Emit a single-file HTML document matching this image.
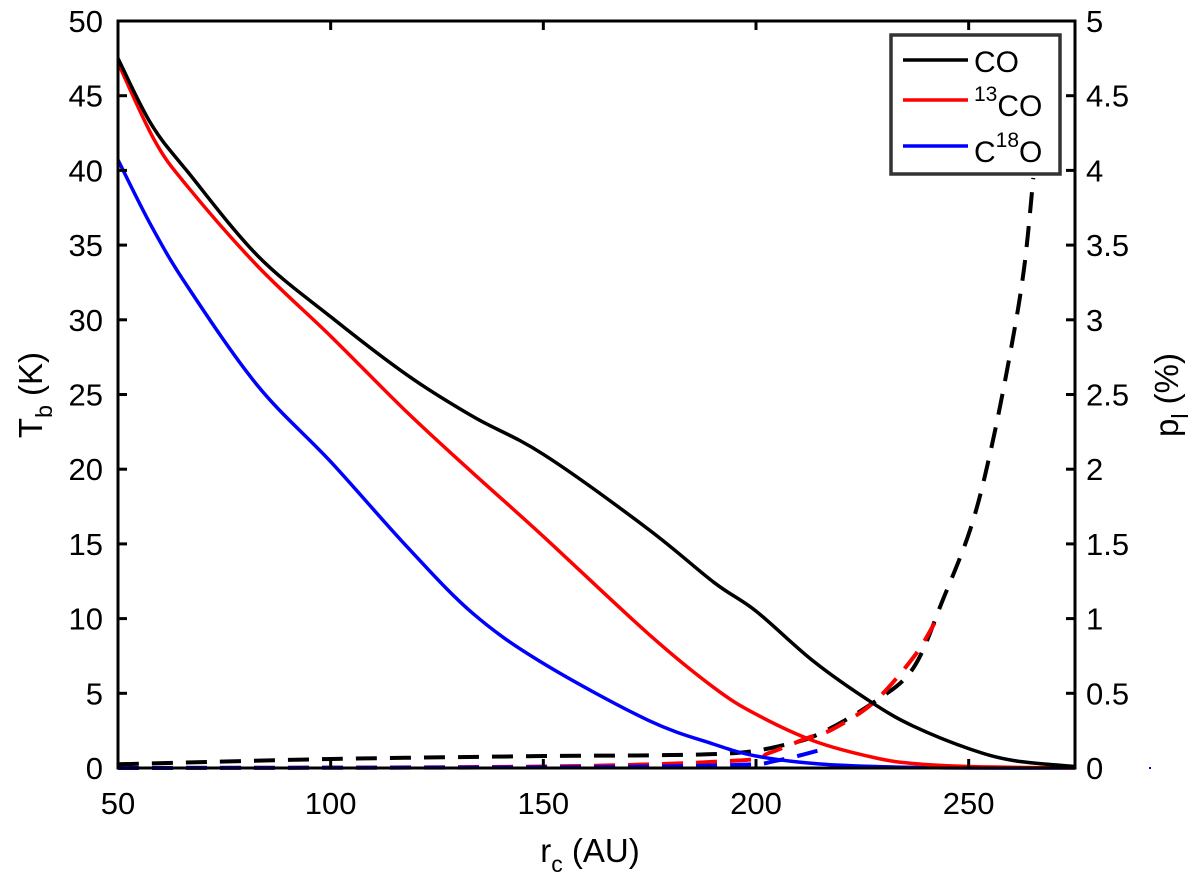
<!DOCTYPE html>
<html><head><meta charset="utf-8"><style>
html,body{margin:0;padding:0;background:#fff;}
svg{display:block;font-family:"Liberation Sans",Arial,sans-serif;}
</style></head><body>
<svg id="chart" width="1200" height="888" viewBox="0 0 1200 888">
<rect x="0" y="0" width="1200" height="888" fill="#fff"/>
<g id="marks"></g>
<rect x="118" y="21" width="957" height="747" fill="none" stroke="#000" stroke-width="3"/>
<g id="ticks"></g>
<text x="42" y="395" font-size="33" text-anchor="middle" transform="rotate(-90 42 395)">T<tspan font-size="23" dy="10">b</tspan><tspan dy="-10"> (K)</tspan></text>
<text x="1178" y="395" font-size="33" text-anchor="middle" transform="rotate(-90 1178 395)">p<tspan font-size="23" dy="10">l</tspan><tspan dy="-10"> (%)</tspan></text>
<text x="590" y="862" font-size="33" text-anchor="middle">r<tspan font-size="23" dy="10">c</tspan><tspan dy="-10"> (AU)</tspan></text>
<rect x="1149" y="767" width="2" height="2" fill="#00f"/>
<g>
<rect x="891" y="35" width="169" height="139" fill="#fff" stroke="#333" stroke-width="3.5"/>
<line x1="903" y1="60" x2="968" y2="60" stroke="#000" stroke-width="3.5"/>
<text x="974" y="72" font-size="30">CO</text>
<line x1="903" y1="100" x2="968" y2="100" stroke="#f00" stroke-width="3.5"/>
<text x="974" y="116" font-size="30"><tspan font-size="21" dy="-15">13</tspan><tspan dy="15">CO</tspan></text>
<line x1="903" y1="146" x2="968" y2="146" stroke="#00f" stroke-width="3.5"/>
<text x="974" y="162" font-size="30">C<tspan font-size="21" dy="-15">18</tspan><tspan dy="15">O</tspan></text>
</g>
</svg>
<script>
const xTicks=[50,100,150,200,250];
const yTicks=[0,5,10,15,20,25,30,35,40,45,50];
const y2Ticks=[0,0.5,1,1.5,2,2.5,3,3.5,4,4.5,5];
const y2Labels=["0","0.5","1","1.5","2","2.5","3","3.5","4","4.5","5"];
const coR=[50,57.8,66.4,82.8,100,118,133.6,150,174.6,190.2,200,213.7,227.7,237,250,260.5,275];
const coT=[47.5,43.1,39.9,34.3,30.2,26.3,23.5,21.0,16.0,12.4,10.5,7.1,4.3,2.8,1.3,0.5,0.1];
const c13R=[50,58.6,66.4,82.8,100,118,133.6,150,174.6,190,200,213.7,227.7,237,250,275];
const c13T=[47.2,42.0,38.9,33.6,28.9,23.8,19.7,15.5,9.0,5.4,3.6,1.8,0.7,0.3,0.1,0];
const c18R=[50,57.8,66.4,82.8,100,118,133.6,150,174.6,190,200,213.7,228,250,275];
const c18T=[40.7,36.3,32.2,25.6,20.5,14.8,10.3,7.0,3.2,1.6,0.8,0.3,0.1,0,0];
const coPR=[50,100,150,175,195,206,215,227.7,237,244,250.4,255,259.8,263,265.2];
const coP=[0.025,0.06,0.08,0.085,0.1,0.15,0.23,0.44,0.67,1.13,1.6,2.1,2.78,3.34,3.95];
const c13PR=[50,150,195.7,203,212,218,227.7,237,242];
const c13P=[0.0,0.01,0.05,0.1,0.2,0.26,0.44,0.74,0.97];
const c18PR=[50,150,195,205,214.5];
const c18P=[0.0,0.005,0.02,0.05,0.115];

const X0=118,X1=1075,Y0=768,Y1=21;
function xs(v){return X0+(v-50)/(275-50)*(X1-X0);}
function ys(v){return Y0-v/50*(Y0-Y1);}
function y2s(v){return Y0-v/5*(Y0-Y1);}
const NS="http://www.w3.org/2000/svg";
const marks=document.getElementById('marks');
const ticks=document.getElementById('ticks');
function path(xsArr,vals,yfn,color,dash,name){
  const p=document.createElementNS(NS,'path');
  const pts=xsArr.map((x,i)=>[xs(x),yfn(vals[i])]);
  let d='M'+pts[0][0].toFixed(1)+','+pts[0][1].toFixed(1);
  for(let i=0;i<pts.length-1;i++){
    const p0=pts[Math.max(0,i-1)],p1=pts[i],p2=pts[i+1],p3=pts[Math.min(pts.length-1,i+2)];
    const c1=[p1[0]+(p2[0]-p0[0])/6,p1[1]+(p2[1]-p0[1])/6];
    const c2=[p2[0]-(p3[0]-p1[0])/6,p2[1]-(p3[1]-p1[1])/6];
    d+='C'+c1[0].toFixed(1)+','+c1[1].toFixed(1)+' '+c2[0].toFixed(1)+','+c2[1].toFixed(1)+' '+p2[0].toFixed(1)+','+p2[1].toFixed(1);
  }
  p.setAttribute('d',d);
  p.setAttribute('fill','none');
  p.setAttribute('stroke',color);
  p.setAttribute('stroke-width',dash?4:3.5);
  p.setAttribute('stroke-linejoin','round');
  if(dash)p.setAttribute('stroke-dasharray','21 13');
  
  
  marks.appendChild(p);
}
path(coPR,coP,y2s,'#000',true,'co-polarization-line');
path(c13PR,c13P,y2s,'#f00',true,'13co-polarization-line');
path(c18PR,c18P,y2s,'#00f',true,'c18o-polarization-line');
path(c18R,c18T,ys,'#00f',false,'c18o-temperature-line');
path(c13R,c13T,ys,'#f00',false,'13co-temperature-line');
path(coR,coT,ys,'#000',false,'co-temperature-line');

function line(x1,y1,x2,y2,name){
  const l=document.createElementNS(NS,'line');
  l.setAttribute('x1',x1);l.setAttribute('y1',y1);l.setAttribute('x2',x2);l.setAttribute('y2',y2);
  l.setAttribute('stroke','#000');l.setAttribute('stroke-width',3);
  
  
  ticks.appendChild(l);
}
function text(x,y,s,anchor,name){
  const t=document.createElementNS(NS,'text');
  t.setAttribute('x',x);t.setAttribute('y',y);t.setAttribute('font-size','31');
  t.setAttribute('text-anchor',anchor);t.textContent=s;
  
  
  ticks.appendChild(t);
}
xTicks.forEach(v=>{
  const x=xs(v);
  line(x,Y0,x,Y0-9,'x-tick');
  line(x,Y1,x,Y1+9,'x-tick-top');
  text(x,814,String(v),'middle','x-tick-label');
});
yTicks.forEach(v=>{
  const y=ys(v);
  line(X0,y,X0+9,y,'y-tick');
  text(103,y+11,String(v),'end','y-tick-label');
});
y2Ticks.forEach((v,i)=>{
  const y=y2s(v);
  line(X1,y,X1-9,y,'y2-tick');
  text(1086,y+11,y2Labels[i],'start','y2-tick-label');
});
</script>
</body></html>
